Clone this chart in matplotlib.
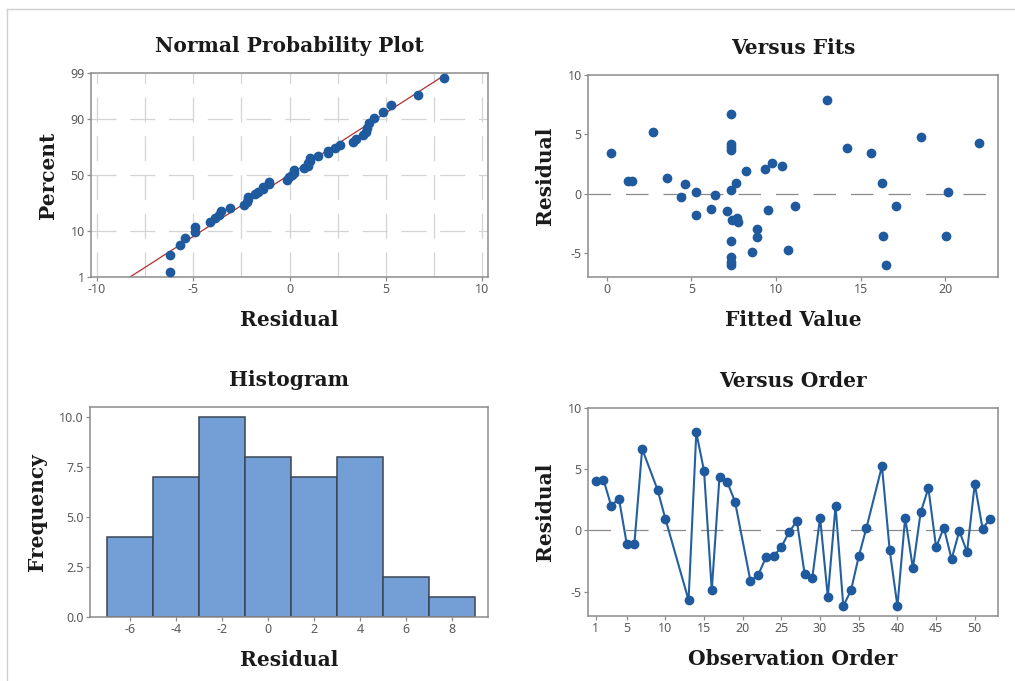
import statistics
import matplotlib
matplotlib.use('Agg')
import matplotlib.pyplot as plt
import numpy as np
from matplotlib.lines import Line2D

plt.rcParams['axes.unicode_minus'] = False

nan = np.nan

# residuals by observation order (nan = missing row)
obs_order = np.arange(1, 53)
resid = [4.03, 4.14, 2.0, 2.6, -1.08, -1.08, 6.66, nan, 3.3, 0.95,
         nan, nan, -5.7, 8.0, 4.86, -4.9, 4.4, 3.95, 2.35, nan,
         -4.14, -3.65, -2.2, -2.13, -1.35, -0.14, 0.77, -3.56, -3.87, 1.05,
         -5.44, 2.0, -6.19, -4.9, -2.13, 0.22, nan, 5.25, -1.63, -6.2,
         1.05, -3.1, 1.46, 3.45, -1.38, 0.22, -2.35, -0.05, -1.77, 3.8,
         0.14, 0.95]

# points
fit_x = [0.26, 1.24, 1.5, 2.72, 3.57, 4.4, 4.64, 5.25, 5.25, 6.17,
         6.41, 7.12, 7.36, 7.36, 7.36, 7.36, 7.32, 7.42, 7.65, 7.69,
         7.75, 7.32, 7.32, 7.32, 7.32, 8.2, 8.58, 8.9, 8.9, 9.33,
         9.53, 9.76, 10.37, 10.7, 11.1, 13.0, 14.16, 15.58, 16.23, 16.33,
         16.47, 17.06, 18.56, 20.12, 20.02, 22.0]
fit_res = [3.42, 1.09, 1.09, 5.2, 1.37, -0.28, 0.81, 0.17, -1.76, -1.29,
           -0.08, -1.43, 6.72, 4.2, 3.98, 3.7, 0.34, -2.18, 0.95, -2.04,
           -2.4, -3.99, -5.3, -5.7, -6.0, 1.96, -4.9, -2.94, -3.67, 2.1,
           -1.32, 2.58, 2.38, -4.76, -1.0, 7.9, 3.89, 3.42, 0.95, -3.56,
           -6.02, -1.0, 4.79, 0.17, -3.56, 4.31]

hist_edges = [-7, -5, -3, -1, 1, 3, 5, 7, 9]
pct_ticks = [1, 10, 50, 90, 99]

MARK = '#1f5a9e'
LINE = '#24609f'
FRAME = '#8c8c8c'
GRID = '#d4d4d4'
TICKC = '#5a5a5a'
title_font = dict(family='DejaVu Serif', weight='bold', size=14.5, color='#1a1a1a')
tick_font = 'Noto Sans'

W, H = 1015, 681


def box(l, t, r, b):
    return [l / W, 1 - b / H, (r - l) / W, (b - t) / H]


def style(ax, title, xlabel, ylabel):
    for s in ax.spines.values():
        s.set_color(FRAME)
        s.set_linewidth(1.1)
    ax.tick_params(colors=FRAME, labelcolor=TICKC, length=3, width=0.9,
                   labelsize=9, pad=1.5)
    for lab in ax.get_xticklabels() + ax.get_yticklabels():
        lab.set_fontfamily(tick_font)
    ax.set_title(title, pad=15, **title_font)
    ax.set_xlabel(xlabel, labelpad=10, **title_font)
    ax.set_ylabel(ylabel, labelpad=9, **title_font)


fig = plt.figure(figsize=(W / 100, H / 100), dpi=100)

r = np.array(resid)
valid = ~np.isnan(r)
rv = r[valid]
nd = statistics.NormalDist()

# ---- Normal probability plot
ax1 = fig.add_axes(box(91, 73, 488, 277))
n = len(rv)
srt = np.sort(rv)
z = np.array([nd.inv_cdf((i - 0.375) / (n + 0.25)) for i in range(1, n + 1)])
zlo, zhi = nd.inv_cdf(0.01), nd.inv_cdf(0.99)
mu, sd = rv.mean(), rv.std(ddof=1)
for gx in np.arange(-10, 10.1, 2.5):
    ax1.axvline(gx, color=GRID, lw=0.9, dashes=(20, 11), zorder=0)
for p in pct_ticks[1:-1]:
    ax1.axhline(nd.inv_cdf(p / 100), color=GRID, lw=0.9, dashes=(20, 11), zorder=0)
zz = np.linspace(zlo, zhi, 50)
ax1.plot(mu + sd * zz, zz, color='#b03030', lw=0.9, zorder=2)
ax1.plot(srt, z, 'o', color=MARK, ms=6, zorder=3)
ax1.set_xlim(-10.3, 10.3)
ax1.set_ylim(zlo, zhi)
ax1.set_xticks([-10, -5, 0, 5, 10])
ax1.set_yticks([nd.inv_cdf(p / 100) for p in pct_ticks])
ax1.set_yticklabels([str(p) for p in pct_ticks])
style(ax1, 'Normal Probability Plot', 'Residual', 'Percent')

# ---- Versus fits
ax2 = fig.add_axes(box(588, 75, 998, 277))
ax2.axhline(0, color='#8a8a8a', lw=0.9, dashes=(18, 12), zorder=1)
ax2.plot(fit_x, fit_res, 'o', color=MARK, ms=6, zorder=3)
ax2.set_xlim(-1.1, 23.1)
ax2.set_ylim(-7, 10)
ax2.set_xticks([0, 5, 10, 15, 20])
ax2.set_yticks([-5, 0, 5, 10])
style(ax2, 'Versus Fits', 'Fitted Value', 'Residual')

# ---- Histogram
ax3 = fig.add_axes(box(90, 407, 488, 617))
ax3.hist(rv, bins=hist_edges, color='#739fd6', edgecolor='#3b4654', linewidth=1.1)
ax3.set_xlim(-7.75, 9.55)
ax3.set_ylim(0, 10.5)
ax3.set_xticks([-6, -4, -2, 0, 2, 4, 6, 8])
ax3.set_yticks([0, 2.5, 5, 7.5, 10])
ax3.set_yticklabels(['0.0', '2.5', '5.0', '7.5', '10.0'])
style(ax3, 'Histogram', 'Residual', 'Frequency')

# ---- Versus order
ax4 = fig.add_axes(box(588, 408, 998, 616))
ax4.axhline(0, color='#8a8a8a', lw=0.9, dashes=(18, 12), zorder=1)
ax4.plot(obs_order[valid], rv, '-o', color=LINE, mfc=MARK, mec=MARK,
         lw=1.5, ms=6, zorder=3)
ax4.set_xlim(0, 53)
ax4.set_ylim(-7, 10)
ax4.set_xticks([1, 5, 10, 15, 20, 25, 30, 35, 40, 45, 50])
ax4.set_yticks([-5, 0, 5, 10])
style(ax4, 'Versus Order', 'Observation Order', 'Residual')

# light outer frame of the screenshot
fig.add_artist(Line2D([7 / W, 1], [1 - 9 / H, 1 - 9 / H], color='#d0d0d0', lw=1))
fig.add_artist(Line2D([7 / W, 7 / W], [0, 1 - 9 / H], color='#d0d0d0', lw=1))

fig.savefig('out.png', dpi=100)
